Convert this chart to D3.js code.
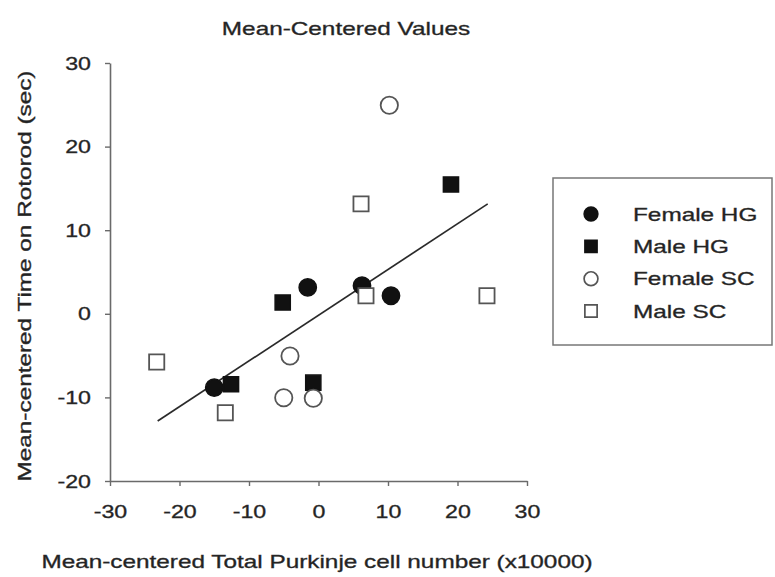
<!DOCTYPE html>
<html>
<head>
<meta charset="utf-8">
<script src="https://cdn.jsdelivr.net/npm/d3@7"></script>
<style>
  html, body { margin: 0; padding: 0; background: #fff; }
  svg text { font-family: "Liberation Sans", Arial, sans-serif; fill: #222; stroke: #333; stroke-width: 0.35px; }
</style>
</head>
<body>
<svg id="chart" width="775" height="577"></svg>
<script>
// ---- data ----
const seriesNames = ["Female HG", "Male HG", "Female SC", "Male SC"];
const femaleHG_x = [-15.0, -1.55, 6.26, 10.43];
const femaleHG_y = [-8.84, 3.15, 3.36, 2.16];
const maleHG_x = [-12.59, -5.15, -0.75, 19.06];
const maleHG_y = [-8.43, 1.35, -8.24, 15.47];
const femaleSC_x = [10.19, -4.1, -5.0, -0.75];
const femaleSC_y = [24.94, -5.04, -10.04, -10.1];
const maleSC_x = [-23.28, -13.41, 6.12, 6.83, 24.24];
const maleSC_y = [-5.76, -11.83, 13.15, 2.16, 2.16];
const fitLineX = [-23.14, 24.35];
const fitLineY = [-12.83, 13.15];
const xTicks = [-30, -20, -10, 0, 10, 20, 30];
const yTicks = [-20, -10, 0, 10, 20, 30];
const titleText = "Mean-Centered Values";
const xTitle = "Mean-centered Total Purkinje cell number (x10000)";
const yTitle = "Mean-centered Time on Rotorod (sec)";

// ---- build series ----
const seriesX = [femaleHG_x, maleHG_x, femaleSC_x, maleSC_x];
const seriesY = [femaleHG_y, maleHG_y, femaleSC_y, maleSC_y];
const shapes = [d3.symbolCircle, d3.symbolSquare, d3.symbolCircle, d3.symbolSquare];
const filled = [true, true, false, false];
const series = seriesNames.map((name, i) => ({
  name, shape: shapes[i], filled: filled[i],
  points: seriesX[i].map((x, j) => ({ x, y: seriesY[i][j] }))
}));

const svg = d3.select("#chart");
const FS = 19, STRETCH = 1.28;

const x = d3.scaleLinear().domain([-30, 30]).range([110, 527]);
const y = d3.scaleLinear().domain([-20, 30]).range([481, 63]);

function stretch(sel, f) {
  sel.each(function () {
    const w = this.getComputedTextLength();
    d3.select(this).attr("textLength", w * (f || STRETCH)).attr("lengthAdjust", "spacingAndGlyphs");
  });
}

// axes
const gx = svg.append("g").attr("transform", `translate(0,${y(-20)})`)
  .call(d3.axisBottom(x).tickValues(xTicks).tickSizeInner(5).tickSizeOuter(0).tickPadding(19).tickFormat(d3.format("d")));
const gy = svg.append("g").attr("transform", `translate(${x(-30)},0)`)
  .call(d3.axisLeft(y).tickValues(yTicks).tickSizeInner(5).tickSizeOuter(0).tickPadding(14).tickFormat(d3.format("d")));
[gx, gy].forEach(g => {
  g.select(".domain").attr("stroke", "#6a6a6a").attr("stroke-width", 1.6);
  g.selectAll(".tick line").attr("stroke", "#6a6a6a").attr("stroke-width", 1.4);
  g.selectAll(".tick text").attr("font-size", FS).attr("fill", "#222")
    .style("font-family", "'Liberation Sans', Arial, sans-serif")
    .text(d => (d < 0 ? "-" : "") + Math.abs(d));
  stretch(g.selectAll(".tick text"), 1.22);
});

// fit line
svg.append("line")
  .attr("x1", x(fitLineX[0])).attr("y1", y(fitLineY[0]))
  .attr("x2", x(fitLineX[1])).attr("y2", y(fitLineY[1]))
  .attr("stroke", "#2a2a2a").attr("stroke-width", 1.7);

// points
const sym = d3.symbol();
series.forEach(s => {
  svg.append("g").selectAll("path").data(s.points).join("path")
    .attr("transform", d => `translate(${x(d.x)},${y(d.y)})`)
    .attr("d", sym.type(s.shape).size(s.shape === d3.symbolCircle ? 235 : 230)())
    .attr("fill", s.filled ? "#111" : "#fff")
    .attr("stroke", s.filled ? "#111" : "#555")
    .attr("stroke-width", s.filled ? 1.5 : 1.8);
});

// title
const t = svg.append("text").attr("x", 346).attr("y", 35).attr("text-anchor", "middle")
  .attr("font-size", FS).text(titleText);
stretch(t);

// x title
const xt = svg.append("text").attr("x", 317).attr("y", 568).attr("text-anchor", "middle")
  .attr("font-size", FS).text(xTitle);
stretch(xt);

// y title
const yt = svg.append("text").attr("transform", `translate(31,276) rotate(-90)`)
  .attr("text-anchor", "middle").attr("font-size", FS).text(yTitle);
stretch(yt);

// legend
const lg = svg.append("g");
lg.append("rect").attr("x", 553).attr("y", 178).attr("width", 219).attr("height", 167)
  .attr("fill", "#fff").attr("stroke", "#777").attr("stroke-width", 1.5);
const rowY = d3.scalePoint().domain(seriesNames).range([214, 311]);
series.forEach(s => {
  const cy = rowY(s.name);
  lg.append("path").attr("transform", `translate(591,${cy})`)
    .attr("d", sym.type(s.shape).size(150)())
    .attr("fill", s.filled ? "#111" : "#fff")
    .attr("stroke", s.filled ? "#111" : "#555").attr("stroke-width", s.filled ? 1.5 : 1.7);
  const lt = lg.append("text").attr("x", 633).attr("y", cy).attr("dy", "0.35em")
    .attr("font-size", FS).text(s.name);
  stretch(lt);
});
</script>
</body>
</html>
